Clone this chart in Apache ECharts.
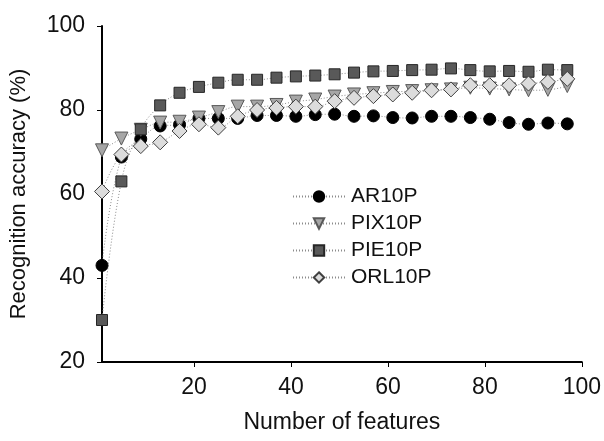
<!DOCTYPE html>
<html>
<head>
<meta charset="utf-8">
<script src="https://cdn.jsdelivr.net/npm/echarts@6/dist/echarts.min.js"></script>
<style>html,body{margin:0;padding:0;background:#fff}#c{width:604px;height:441px}</style>
</head>
<body>
<div id="c"></div>
<script>
const features = [1,5,9,13,17,21,25,29,33,37,41,45,49,53,57,61,65,69,73,77,81,85,89,93,97];
const ar10p  = [43.0,68.8,73.1,76.2,76.5,78.0,78.0,78.0,78.7,78.7,78.5,78.9,79.0,78.5,78.6,78.2,78.1,78.5,78.5,78.2,77.8,77.0,76.6,76.9,76.7];
const pix10p = [70.4,73.2,75.3,77.0,77.2,78.2,79.5,80.8,80.8,81.2,82.0,82.5,83.2,83.7,84.0,84.3,84.5,84.7,84.9,85.3,85.1,84.9,84.7,84.8,85.7];
const pie10p = [30.0,63.0,75.4,81.1,84.1,85.5,86.5,87.2,87.2,87.7,88.0,88.2,88.5,88.9,89.2,89.3,89.5,89.6,89.9,89.5,89.2,89.3,89.1,89.6,89.5];
const orl10p = [60.6,69.4,71.4,72.3,75.0,76.6,75.8,78.5,80.0,80.5,80.8,80.8,82.1,82.9,83.3,83.7,84.1,84.7,84.9,85.9,85.9,85.9,86.3,86.7,87.4];
const xTicks = [20,40,60,80,100];
const seriesNames = ['AR10P','PIX10P','PIE10P','ORL10P'];

const pairs = arr => features.map((x,i)=>[x, arr[i]]);
const font = 'Liberation Sans, Arial, sans-serif';
const txt = '#111';
const lineStyle = {color:'#8c8c8c', width:1, type:[1,2]};
function mk(name, data, symbol, size, fill, border, rot){
  return {
    name, type:'line', data:pairs(data), smooth:0.4,
    symbol, symbolSize:size, symbolRotate:rot||0,
    lineStyle, itemStyle:{color:fill, borderColor:border, borderWidth:1, opacity:1},
    emphasis:{disabled:true}, animation:false
  };
}
const chart = echarts.init(document.getElementById('c'), null, {renderer:'canvas'});
chart.setOption({
  animation:false,
  backgroundColor:'#fff',
  textStyle:{fontFamily:font},
  grid:{left:101, right:22, top:26, bottom:79, containLabel:false},
  legend:{
    orient:'vertical', left:287, top:181, itemWidth:52, itemHeight:13, itemGap:6,
    data:seriesNames,
    textStyle:{fontFamily:font, fontSize:21, lineHeight:20, color:txt, padding:[0,0,0,1]}
  },
  xAxis:{
    type:'value', min:1, max:100,
    name:'Number of features', nameLocation:'middle', nameGap:49,
    nameTextStyle:{fontFamily:font, fontSize:23, color:txt},
    axisLine:{lineStyle:{color:'#000', width:2}},
    axisTick:{show:true, inside:false, length:5, customValues:xTicks, lineStyle:{color:'#000', width:1}},
    axisLabel:{customValues:xTicks, fontFamily:font, fontSize:23, color:txt, margin:14},
    splitLine:{show:false}
  },
  yAxis:{
    type:'value', min:20, max:100, interval:20,
    name:'Recognition accuracy (%)', nameLocation:'middle', nameGap:72,
    nameTextStyle:{fontFamily:font, fontSize:22, color:txt},
    axisLine:{show:true, lineStyle:{color:'#000', width:2}},
    axisTick:{show:true, inside:false, length:5, lineStyle:{color:'#000', width:1}},
    axisLabel:{fontFamily:font, fontSize:23, color:txt, margin:17},
    splitLine:{show:false}
  },
  series:[
    mk('AR10P', ar10p, 'circle', 12, '#000000', '#000000'),
    mk('PIX10P', pix10p, 'triangle', 13, '#a6a6a6', '#595959', 180),
    mk('PIE10P', pie10p, 'rect', 11, '#595959', '#262626'),
    mk('ORL10P', orl10p, 'diamond', 15, '#dcdcdc', '#404040')
  ]
});
</script>
</body>
</html>
